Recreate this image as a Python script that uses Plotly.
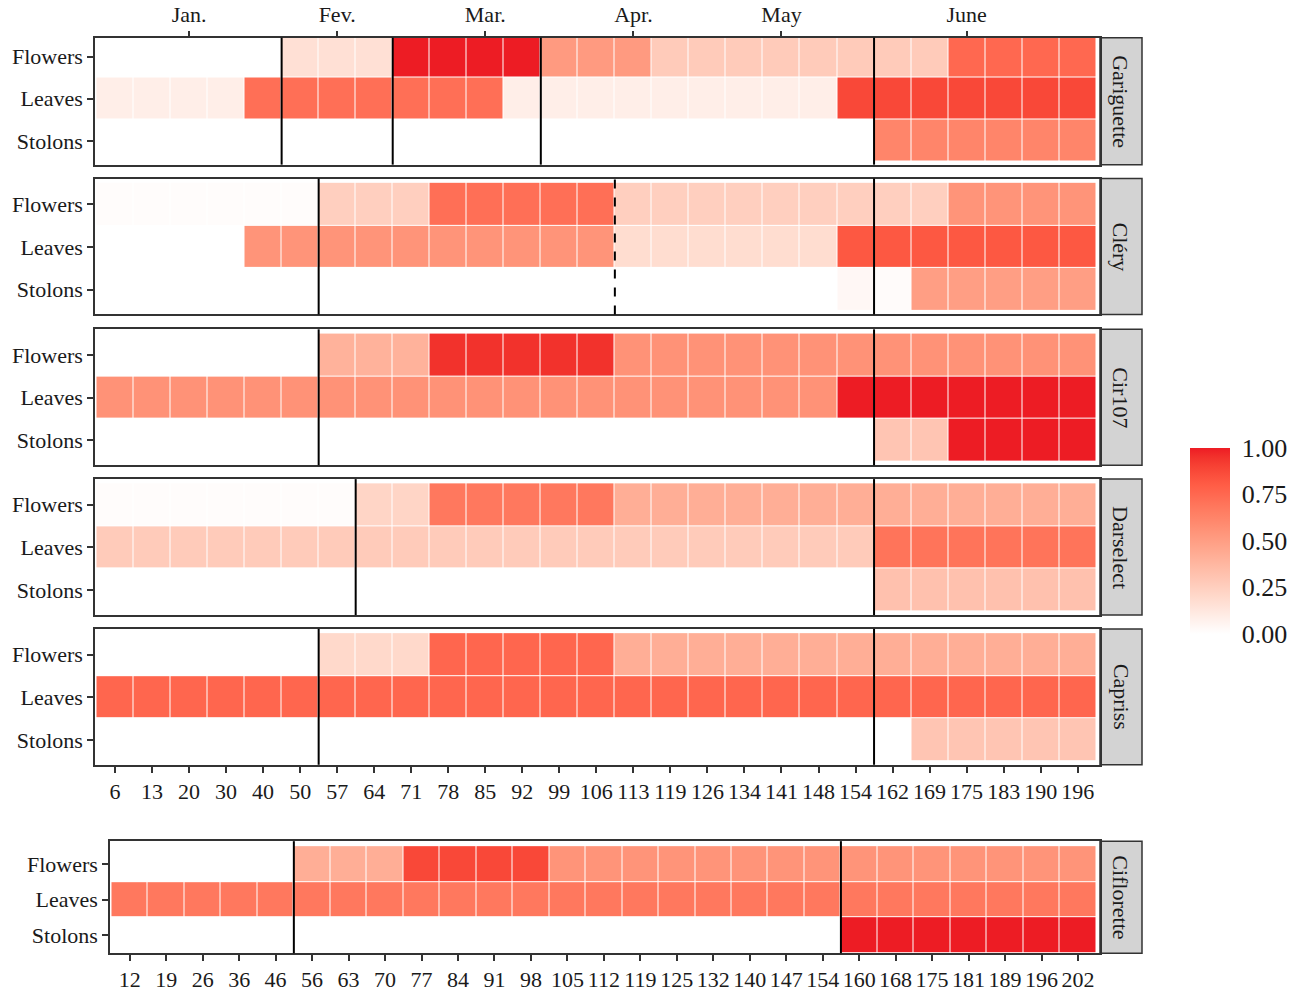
import plotly.graph_objects as go

# ---- data -------------------------------------------------------------
organs = ["Flowers", "Leaves", "Stolons"]

days_main = ["6", "13", "20", "30", "40", "50", "57", "64", "71", "78", "85", "92", "99", "106",
             "113", "119", "126", "134", "141", "148", "154", "162", "169", "175", "183", "190", "196"]
days_ciflorette = ["12", "19", "26", "36", "46", "56", "63", "70", "77", "84", "91", "98", "105", "112",
                   "119", "125", "132", "140", "147", "154", "160", "168", "175", "181", "189", "196", "202"]

months = ["Jan.", "Fev.", "Mar.", "Apr.", "May", "June"]
month_days = ["20", "57", "85", "113", "141", "175"]

N = None
gariguette_flowers = [N, N, N, N, N, 0.16, 0.16, 0.16, 1.0, 1.0, 1.0, 1.0, 0.52, 0.52,
                      0.52, 0.27, 0.27, 0.27, 0.27, 0.27, 0.27, 0.27, 0.27, 0.75, 0.75, 0.75, 0.75]
gariguette_leaves = [0.09, 0.09, 0.09, 0.09, 0.72, 0.72, 0.72, 0.72, 0.72, 0.72, 0.72, 0.09, 0.09, 0.09,
                     0.09, 0.09, 0.09, 0.09, 0.09, 0.09, 0.88, 0.88, 0.88, 0.88, 0.88, 0.88, 0.88]
gariguette_stolons = [N, N, N, N, N, N, N, N, N, N, N, N, N, N,
                      N, N, N, N, N, N, N, 0.62, 0.62, 0.62, 0.62, 0.62, 0.62]

clery_flowers = [0.015, 0.015, 0.015, 0.015, 0.015, 0.015, 0.25, 0.25, 0.25, 0.72, 0.72, 0.72, 0.72, 0.72,
                 0.25, 0.25, 0.25, 0.25, 0.25, 0.25, 0.25, 0.25, 0.25, 0.55, 0.55, 0.55, 0.55]
clery_leaves = [N, N, N, N, 0.55, 0.55, 0.55, 0.55, 0.55, 0.55, 0.55, 0.55, 0.55, 0.55,
                0.18, 0.18, 0.18, 0.18, 0.18, 0.18, 0.82, 0.82, 0.82, 0.82, 0.82, 0.82, 0.82]
clery_stolons = [N, N, N, N, N, N, N, N, N, N, N, N, N, N,
                 N, N, N, N, N, N, 0.04, 0.02, 0.5, 0.5, 0.5, 0.5, 0.5]

cir107_flowers = [N, N, N, N, N, N, 0.4, 0.4, 0.4, 0.95, 0.95, 0.95, 0.95, 0.95,
                  0.56, 0.56, 0.56, 0.56, 0.56, 0.56, 0.56, 0.56, 0.56, 0.56, 0.56, 0.56, 0.56]
cir107_leaves = [0.56, 0.56, 0.56, 0.56, 0.56, 0.56, 0.56, 0.56, 0.56, 0.56, 0.56, 0.56, 0.56, 0.56,
                 0.56, 0.56, 0.56, 0.56, 0.56, 0.56, 1.0, 1.0, 1.0, 1.0, 1.0, 1.0, 1.0]
cir107_stolons = [N, N, N, N, N, N, N, N, N, N, N, N, N, N,
                  N, N, N, N, N, N, N, 0.3, 0.3, 1.0, 1.0, 1.0, 1.0]

darselect_flowers = [0.015, 0.015, 0.015, 0.015, 0.015, 0.015, 0.015, 0.22, 0.22, 0.68, 0.68, 0.68, 0.68, 0.68,
                     0.42, 0.42, 0.42, 0.42, 0.42, 0.42, 0.42, 0.42, 0.42, 0.42, 0.42, 0.42, 0.42]
darselect_leaves = [0.27, 0.27, 0.27, 0.27, 0.27, 0.27, 0.27, 0.27, 0.27, 0.27, 0.27, 0.27, 0.27, 0.27,
                    0.27, 0.27, 0.27, 0.27, 0.27, 0.27, 0.27, 0.7, 0.7, 0.7, 0.7, 0.7, 0.7]
darselect_stolons = [N, N, N, N, N, N, N, N, N, N, N, N, N, N,
                     N, N, N, N, N, N, N, 0.32, 0.32, 0.32, 0.32, 0.32, 0.32]

capriss_flowers = [N, N, N, N, N, N, 0.2, 0.2, 0.2, 0.76, 0.76, 0.76, 0.76, 0.76,
                   0.42, 0.42, 0.42, 0.42, 0.42, 0.42, 0.42, 0.42, 0.42, 0.42, 0.42, 0.42, 0.42]
capriss_leaves = [0.76, 0.76, 0.76, 0.76, 0.76, 0.76, 0.76, 0.76, 0.76, 0.76, 0.76, 0.76, 0.76, 0.76,
                  0.76, 0.76, 0.76, 0.76, 0.76, 0.76, 0.76, 0.76, 0.76, 0.76, 0.76, 0.76, 0.76]
capriss_stolons = [N, N, N, N, N, N, N, N, N, N, N, N, N, N,
                   N, N, N, N, N, N, N, N, 0.3, 0.3, 0.3, 0.3, 0.3]

ciflorette_flowers = [N, N, N, N, N, 0.42, 0.42, 0.42, 0.88, 0.88, 0.88, 0.88, 0.55, 0.55,
                      0.55, 0.55, 0.55, 0.55, 0.55, 0.55, 0.55, 0.55, 0.55, 0.55, 0.55, 0.55, 0.55]
ciflorette_leaves = [0.68, 0.68, 0.68, 0.68, 0.68, 0.68, 0.68, 0.68, 0.68, 0.68, 0.68, 0.68, 0.68, 0.68,
                     0.68, 0.68, 0.68, 0.68, 0.68, 0.68, 0.68, 0.68, 0.68, 0.68, 0.68, 0.68, 0.68]
ciflorette_stolons = [N, N, N, N, N, N, N, N, N, N, N, N, N, N,
                      N, N, N, N, N, N, 1.0, 1.0, 1.0, 1.0, 1.0, 1.0, 1.0]

# phase boundaries (between two day columns); dashed ones listed separately
gariguette_breaks = ["40|50", "64|71", "92|99", "154|162"]
clery_breaks = ["50|57", "154|162"]
clery_dashed = ["106|113"]
cir107_breaks = ["50|57", "154|162"]
darselect_breaks = ["57|64", "154|162"]
capriss_breaks = ["50|57", "154|162"]
ciflorette_breaks = ["46|56", "154|160"]

panels = [
    ("Gariguette", days_main, [gariguette_flowers, gariguette_leaves, gariguette_stolons], gariguette_breaks, []),
    ("Cléry", days_main, [clery_flowers, clery_leaves, clery_stolons], clery_breaks, clery_dashed),
    ("Cir107", days_main, [cir107_flowers, cir107_leaves, cir107_stolons], cir107_breaks, []),
    ("Darselect", days_main, [darselect_flowers, darselect_leaves, darselect_stolons], darselect_breaks, []),
    ("Capriss", days_main, [capriss_flowers, capriss_leaves, capriss_stolons], capriss_breaks, []),
    ("Ciflorette", days_ciflorette, [ciflorette_flowers, ciflorette_leaves, ciflorette_stolons], ciflorette_breaks, []),
]


# ---- white -> red gradient interpolated in CIE Lab ----------------------
def _lin(c):
    c = c / 255.0
    return c / 12.92 if c <= 0.04045 else ((c + 0.055) / 1.055) ** 2.4


def _unlin(c):
    v = 12.92 * c if c <= 0.0031308 else 1.055 * c ** (1 / 2.4) - 0.055
    return max(0, min(255, round(v * 255)))


WHITE_REF = (0.95047, 1.0, 1.08883)


def to_lab(rgb):
    r, g, b = (_lin(v) for v in rgb)
    x = 0.4124 * r + 0.3576 * g + 0.1805 * b
    y = 0.2126 * r + 0.7152 * g + 0.0722 * b
    z = 0.0193 * r + 0.1192 * g + 0.9505 * b

    def f(t):
        return t ** (1 / 3) if t > (6 / 29) ** 3 else t / (3 * (6 / 29) ** 2) + 4 / 29
    fx, fy, fz = f(x / WHITE_REF[0]), f(y / WHITE_REF[1]), f(z / WHITE_REF[2])
    return 116 * fy - 16, 500 * (fx - fy), 200 * (fy - fz)


def from_lab(lab):
    L, a, bb = lab
    fy = (L + 16) / 116
    fx = fy + a / 500
    fz = fy - bb / 200

    def finv(t):
        return t ** 3 if t > 6 / 29 else 3 * (6 / 29) ** 2 * (t - 4 / 29)
    x, y, z = finv(fx) * WHITE_REF[0], finv(fy) * WHITE_REF[1], finv(fz) * WHITE_REF[2]
    r = 3.2406 * x - 1.5372 * y - 0.4986 * z
    g = -0.9689 * x + 1.8758 * y + 0.0415 * z
    b = 0.0557 * x - 0.2040 * y + 1.0570 * z
    return tuple(_unlin(max(0.0, v)) for v in (r, g, b))


# ramp white -> red in Lab; the top end is pulled toward a printed red
low_lab = to_lab((255, 255, 255))
red_lab = to_lab((255, 0, 0))
ink_lab = to_lab((237, 28, 36))
colorscale = []
for k in range(21):
    t = k / 20
    lab = tuple(lo + (hi - lo) * t + (ink - hi) * t ** 3
                for lo, hi, ink in zip(low_lab, red_lab, ink_lab))
    colorscale.append([t, "rgb(%d,%d,%d)" % from_lab(lab)])

# ---- layout geometry (pixels) --------------------------------------------
W, H = 1300, 992
panel_px = [(38, 166), (180, 317), (332, 469), (483, 620), (634, 771), (848, 961)]
panel_x_px = [(95, 1100)] * 5 + [(110, 1100)]
y_ranges = [[-0.565, 2.447]] + [[-0.58, 2.6]] * 4 + [[-0.5, 2.64]]
strip_x_px = (1100, 1142)

FONT = "Liberation Serif"
INK = "#1a1a1a"
fig = go.Figure()
shapes = []
annotations = []
layout_axes = {}

for i, (name, days, rows, breaks, dashed) in enumerate(panels):
    n = i + 1
    xs = "" if n == 1 else str(n)
    top, bot = panel_px[i]
    xl, xr = panel_x_px[i]
    ydom = [1 - bot / H, 1 - top / H]
    xdom = [xl / W, xr / W]
    ncol = len(days)
    cell = (xr - xl - 5) / ncol
    x_range = [-0.5 - 1.5 / cell, ncol - 0.5 + 3.8 / cell]

    fig.add_trace(go.Heatmap(
        x=list(range(ncol)), y=organs, z=rows,
        coloraxis="coloraxis", xgap=1, ygap=1,
        xaxis="x" + xs, yaxis="y" + xs, hoverongaps=False,
    ))

    show_x = n >= 5
    layout_axes["xaxis" + xs] = dict(
        domain=xdom, range=x_range, anchor="y" + xs,
        tickmode="array", tickvals=list(range(ncol)), ticktext=days,
        showticklabels=show_x, ticks="outside" if show_x else "",
        ticklen=6, tickwidth=2, tickcolor="#333333",
        tickfont=dict(family=FONT, size=22, color=INK),
        showgrid=False, zeroline=False,
        showline=True, mirror=True, linecolor="#333333", linewidth=1.5,
    )
    layout_axes["yaxis" + xs] = dict(
        domain=ydom, range=y_ranges[i], anchor="x" + xs,
        type="category", categoryorder="array", categoryarray=organs[::-1],
        ticks="outside", ticklen=6, tickwidth=2, tickcolor="#333333",
        tickfont=dict(family=FONT, size=22, color=INK),
        showgrid=False, zeroline=False,
        showline=True, mirror=True, linecolor="#333333", linewidth=1.5,
    )

    # phase boundary lines
    for style, lst in (("solid", breaks), ("dash", dashed)):
        for b in lst:
            left_day = b.split("|")[0]
            pos = days.index(left_day) + 0.5
            shapes.append(dict(
                type="line", xref="x" + xs, yref="y" + xs + " domain",
                x0=pos, x1=pos, y0=0, y1=1,
                line=dict(color="black", width=2, dash=style),
            ))

    # facet strip
    shapes.append(dict(
        type="rect", xref="paper", yref="paper",
        x0=strip_x_px[0] / W, x1=strip_x_px[1] / W, y0=ydom[0], y1=ydom[1],
        fillcolor="#D3D3D3", line=dict(color="#333333", width=1.5), layer="below",
    ))
    annotations.append(dict(
        x=(strip_x_px[0] + strip_x_px[1]) / 2 / W, y=(ydom[0] + ydom[1]) / 2,
        xref="paper", yref="paper", xanchor="center", yanchor="middle",
        text=name, showarrow=False, textangle=90,
        font=dict(family=FONT, size=22, color=INK),
    ))

# month axis on top of the first panel
layout_axes["xaxis7"] = dict(
    overlaying="x", anchor="y", side="top",
    range=layout_axes["xaxis"]["range"],
    tickmode="array", tickvals=[days_main.index(d) for d in month_days], ticktext=months,
    ticks="outside", ticklen=6, tickwidth=2, tickcolor="#333333",
    tickfont=dict(family=FONT, size=22, color=INK),
    showgrid=False, zeroline=False, showline=False,
)
fig.add_trace(go.Scatter(x=[None], y=[None], xaxis="x7", yaxis="y",
                         mode="markers", showlegend=False, hoverinfo="skip"))

fig.update_layout(
    width=W, height=H, autosize=False,
    margin=dict(l=0, r=0, t=0, b=0),
    paper_bgcolor="white", plot_bgcolor="white",
    showlegend=False,
    coloraxis=dict(
        colorscale=colorscale, cmin=0, cmax=1,
        colorbar=dict(
            thickness=40, len=186, lenmode="pixels",
            x=1190 / W, xanchor="left", y=1 - 545 / H, yanchor="middle",
            xpad=0, ypad=0,
            tickmode="array", tickvals=[0, 0.25, 0.5, 0.75, 1],
            ticktext=["0.00", "0.25", "0.50", "0.75", "1.00"],
            ticks="outside", ticklen=7, tickcolor="rgba(0,0,0,0)", outlinewidth=0,
            tickfont=dict(family=FONT, size=26, color=INK),
        ),
    ),
    shapes=shapes,
    annotations=annotations,
    **layout_axes,
)

fig.write_html("out.html")
